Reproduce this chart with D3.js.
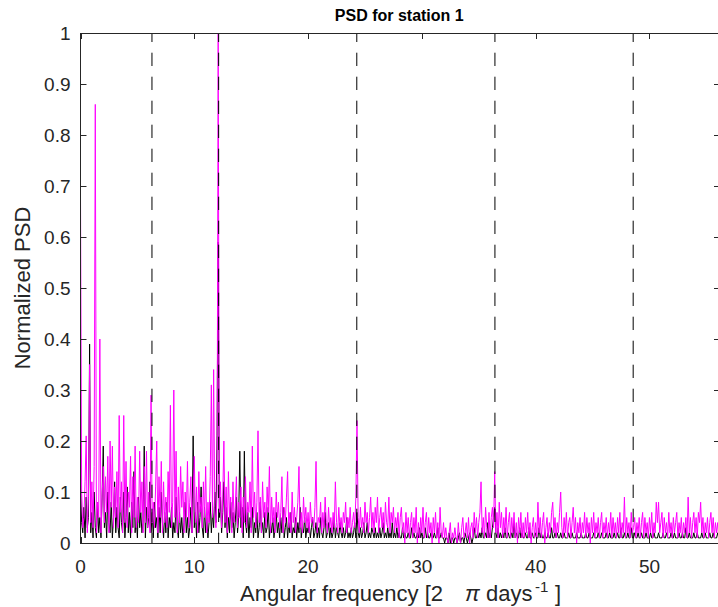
<!DOCTYPE html>
<html>
<head>
<meta charset="utf-8">
<script src="https://cdn.jsdelivr.net/npm/d3@7"></script>
<style>
	body { margin: 0; background: #fff; }
	svg { display: block; font-family: "Liberation Sans", Arial, sans-serif; }
	.tick-label { font-size: 19px; fill: #262626; }
</style>
</head>
<body>
<svg id="chart" width="718" height="607"></svg>
<script>
// frequency resolution of the PSD [2 pi days^-1]
var freqStep = 0.1;

// tidal harmonics marked with dashed lines
var tideFreqs = [6.28, 12.14, 24.28, 36.42, 48.57];

var xTicks = [0, 10, 20, 30, 40, 50];
var yTicks = [0, 0.1, 0.2, 0.3, 0.4, 0.5, 0.6, 0.7, 0.8, 0.9, 1];

// normalized PSD, magenta series (one row per unit of frequency)
var psdMagenta = [
	0.68, 0.10, 0.03, 0.05, 0.12, 0.21, 0.02, 0.09, 0.35, 0.04,
	0.12, 0.03, 0.15, 0.86, 0.02, 0.08, 0.05, 0.40, 0.02, 0.09,
	0.15, 0.04, 0.13, 0.06, 0.17, 0.02, 0.20, 0.07, 0.19, 0.03,
	0.11, 0.05, 0.14, 0.03, 0.25, 0.06, 0.12, 0.02, 0.25, 0.04,
	0.16, 0.03, 0.10, 0.07, 0.17, 0.02, 0.13, 0.05, 0.19, 0.03,
	0.09, 0.04, 0.18, 0.06, 0.12, 0.02, 0.15, 0.04, 0.18, 0.03,
	0.10, 0.02, 0.29, 0.04, 0.08, 0.03, 0.11, 0.20, 0.02, 0.13,
	0.05, 0.16, 0.02, 0.12, 0.04, 0.09, 0.03, 0.14, 0.06, 0.27,
	0.03, 0.08, 0.30, 0.05, 0.18, 0.02, 0.11, 0.04, 0.15, 0.07,
	0.12, 0.02, 0.10, 0.05, 0.16, 0.03, 0.08, 0.13, 0.02, 0.09,
	0.17, 0.04, 0.11, 0.02, 0.14, 0.06, 0.09, 0.03, 0.12, 0.05,
	0.15, 0.02, 0.08, 0.04, 0.13, 0.31, 0.05, 0.34, 0.07, 0.03,
	0.10, 1.00, 0.06, 0.12, 0.03, 0.09, 0.20, 0.04, 0.11, 0.02,
	0.14, 0.05, 0.09, 0.02, 0.12, 0.04, 0.07, 0.13, 0.03, 0.08,
	0.05, 0.11, 0.02, 0.09, 0.04, 0.13, 0.03, 0.08, 0.06, 0.12,
	0.02, 0.19, 0.05, 0.10, 0.03, 0.08, 0.22, 0.04, 0.09, 0.02,
	0.12, 0.05, 0.08, 0.03, 0.11, 0.06, 0.15, 0.02, 0.09, 0.04,
	0.07, 0.02, 0.10, 0.05, 0.08, 0.03, 0.06, 0.13, 0.02, 0.07,
	0.04, 0.09, 0.14, 0.03, 0.06, 0.02, 0.10, 0.04, 0.07, 0.02,
	0.05, 0.08, 0.15, 0.03, 0.06, 0.02, 0.09, 0.04, 0.07, 0.03,
	0.06, 0.02, 0.08, 0.04, 0.05, 0.03, 0.07, 0.16, 0.02, 0.05,
	0.04, 0.08, 0.02, 0.06, 0.03, 0.09, 0.04, 0.02, 0.07, 0.03,
	0.05, 0.02, 0.06, 0.03, 0.12, 0.04, 0.02, 0.07, 0.03, 0.05,
	0.02, 0.06, 0.04, 0.08, 0.02, 0.05, 0.03, 0.07, 0.02, 0.04,
	0.06, 0.03, 0.09, 0.24, 0.05, 0.02, 0.07, 0.03, 0.05, 0.02,
	0.08, 0.04, 0.06, 0.02, 0.05, 0.09, 0.03, 0.06, 0.02, 0.07,
	0.04, 0.09, 0.02, 0.05, 0.07, 0.03, 0.06, 0.02, 0.08, 0.04,
	0.03, 0.09, 0.02, 0.06, 0.04, 0.07, 0.02, 0.05, 0.03, 0.06,
	0.01, 0.05, 0.07, 0.02, 0.04, 0.00, 0.06, 0.02, 0.05, 0.01,
	0.04, 0.06, 0.01, 0.05, 0.02, 0.07, 0.00, 0.04, 0.01, 0.05,
	0.02, 0.07, 0.01, 0.04, 0.06, 0.01, 0.05, 0.02, 0.04, 0.00,
	0.05, 0.02, 0.06, 0.01, 0.04, 0.00, 0.07, 0.02, 0.01, 0.04,
	0.01, 0.03, 0.01, 0.00, 0.02, 0.04, 0.00, 0.02, 0.01, 0.03,
	0.01, 0.00, 0.04, 0.01, 0.00, 0.03, 0.05, 0.01, 0.02, 0.04,
	0.01, 0.05, 0.00, 0.03, 0.04, 0.01, 0.06, 0.02, 0.05, 0.01,
	0.04, 0.06, 0.12, 0.02, 0.05, 0.01, 0.07, 0.03, 0.01, 0.06,
	0.01, 0.05, 0.07, 0.03, 0.14, 0.02, 0.06, 0.01, 0.08, 0.03,
	0.06, 0.01, 0.05, 0.02, 0.07, 0.01, 0.04, 0.06, 0.01, 0.05,
	0.02, 0.06, 0.01, 0.04, 0.00, 0.05, 0.02, 0.06, 0.01, 0.04,
	0.01, 0.05, 0.02, 0.06, 0.01, 0.04, 0.00, 0.03, 0.05, 0.01,
	0.04, 0.01, 0.08, 0.02, 0.05, 0.01, 0.04, 0.06, 0.00, 0.03,
	0.05, 0.01, 0.04, 0.02, 0.06, 0.08, 0.02, 0.05, 0.01, 0.04,
	0.02, 0.06, 0.10, 0.03, 0.01, 0.05, 0.02, 0.06, 0.01, 0.04,
	0.05, 0.01, 0.04, 0.07, 0.02, 0.05, 0.00, 0.04, 0.02, 0.05,
	0.01, 0.04, 0.02, 0.06, 0.01, 0.05, 0.02, 0.04, 0.00, 0.05,
	0.02, 0.06, 0.01, 0.04, 0.02, 0.05, 0.01, 0.04, 0.06, 0.01,
	0.04, 0.02, 0.05, 0.01, 0.04, 0.02, 0.06, 0.01, 0.05, 0.02,
	0.04, 0.01, 0.05, 0.02, 0.06, 0.01, 0.04, 0.02, 0.09, 0.01,
	0.05, 0.02, 0.04, 0.01, 0.06, 0.02, 0.03, 0.05, 0.01, 0.04,
	0.02, 0.05, 0.01, 0.04, 0.06, 0.01, 0.05, 0.02, 0.04, 0.01,
	0.05, 0.02, 0.06, 0.01, 0.04, 0.02, 0.08, 0.04, 0.08, 0.02,
	0.04, 0.06, 0.01, 0.05, 0.02, 0.04, 0.01, 0.06, 0.02, 0.04,
	0.01, 0.05, 0.02, 0.04, 0.06, 0.01, 0.04, 0.02, 0.05, 0.01,
	0.04, 0.02, 0.05, 0.01, 0.09, 0.02, 0.05, 0.01, 0.04, 0.06,
	0.02, 0.05, 0.01, 0.06, 0.04, 0.08, 0.02, 0.05, 0.01, 0.04,
	0.02, 0.05, 0.01, 0.04, 0.06, 0.02, 0.05, 0.01, 0.04, 0.02,
	0.04, 0.01, 0.05
];

// normalized PSD, black series (one row per unit of frequency)
var psdBlack = [
	0.12, 0.04, 0.02, 0.07, 0.01, 0.09, 0.03, 0.05, 0.39, 0.02,
	0.06, 0.01, 0.10, 0.03, 0.01, 0.08, 0.02, 0.05, 0.01, 0.09,
	0.19, 0.03, 0.06, 0.01, 0.10, 0.04, 0.02, 0.08, 0.01, 0.05,
	0.12, 0.02, 0.07, 0.03, 0.01, 0.09, 0.04, 0.02, 0.10, 0.01,
	0.05, 0.11, 0.02, 0.06, 0.01, 0.08, 0.03, 0.14, 0.02, 0.05,
	0.01, 0.09, 0.03, 0.06, 0.02, 0.04, 0.19, 0.01, 0.07, 0.03,
	0.05, 0.12, 0.02, 0.06, 0.01, 0.08, 0.03, 0.05, 0.01, 0.07,
	0.02, 0.10, 0.04, 0.01, 0.06, 0.02, 0.08, 0.01, 0.05, 0.03,
	0.07, 0.01, 0.04, 0.02, 0.09, 0.03, 0.01, 0.06, 0.02, 0.05,
	0.01, 0.04, 0.08, 0.02, 0.05, 0.01, 0.03, 0.07, 0.02, 0.21,
	0.03, 0.06, 0.01, 0.08, 0.02, 0.05, 0.11, 0.03, 0.01, 0.07,
	0.02, 0.05, 0.01, 0.04, 0.08, 0.02, 0.06, 0.03, 0.10, 0.04,
	0.21, 0.59, 0.05, 0.09, 0.02, 0.06, 0.12, 0.03, 0.07, 0.01,
	0.05, 0.02, 0.08, 0.03, 0.06, 0.01, 0.04, 0.09, 0.02, 0.05,
	0.18, 0.03, 0.07, 0.01, 0.18, 0.04, 0.02, 0.06, 0.01, 0.05,
	0.03, 0.07, 0.01, 0.04, 0.02, 0.06, 0.01, 0.03, 0.08, 0.02,
	0.04, 0.01, 0.06, 0.02, 0.03, 0.07, 0.01, 0.04, 0.02, 0.05,
	0.01, 0.03, 0.06, 0.02, 0.04, 0.01, 0.05, 0.02, 0.07, 0.01,
	0.03, 0.05, 0.01, 0.04, 0.02, 0.06, 0.01, 0.03, 0.02, 0.05,
	0.01, 0.04, 0.02, 0.07, 0.01, 0.03, 0.02, 0.05, 0.01, 0.03,
	0.02, 0.04, 0.01, 0.03, 0.05, 0.01, 0.02, 0.04, 0.01, 0.03,
	0.01, 0.05, 0.02, 0.01, 0.03, 0.06, 0.01, 0.02, 0.04, 0.01,
	0.03, 0.01, 0.02, 0.05, 0.01, 0.03, 0.02, 0.01, 0.04, 0.02,
	0.01, 0.03, 0.01, 0.02, 0.05, 0.01, 0.02, 0.01, 0.03, 0.01,
	0.02, 0.04, 0.01, 0.06, 0.02, 0.01, 0.03, 0.01, 0.02, 0.04,
	0.01, 0.02, 0.04, 0.01, 0.02, 0.01, 0.03, 0.02, 0.01, 0.03,
	0.01, 0.02, 0.01, 0.03, 0.01, 0.02, 0.04, 0.01, 0.02, 0.01,
	0.03, 0.01, 0.02, 0.01, 0.04, 0.01, 0.02, 0.01, 0.03, 0.01,
	0.02, 0.01, 0.01, 0.03, 0.01, 0.02, 0.01, 0.01, 0.02, 0.01,
	0.01, 0.03, 0.01, 0.02, 0.01, 0.01, 0.02, 0.01, 0.03, 0.01,
	0.02, 0.01, 0.01, 0.03, 0.01, 0.02, 0.01, 0.01, 0.02, 0.01,
	0.01, 0.02, 0.01, 0.01, 0.03, 0.01, 0.01, 0.02, 0.01, 0.01,
	0.00, 0.01, 0.01, 0.00, 0.02, 0.00, 0.01, 0.01, 0.00, 0.01,
	0.01, 0.00, 0.01, 0.02, 0.00, 0.01, 0.01, 0.00, 0.02, 0.01,
	0.00, 0.01, 0.02, 0.01, 0.00, 0.01, 0.03, 0.01, 0.01, 0.02,
	0.01, 0.02, 0.01, 0.03, 0.01, 0.01, 0.02, 0.01, 0.04, 0.01,
	0.02, 0.01, 0.03, 0.05, 0.07, 0.02, 0.01, 0.03, 0.01, 0.02,
	0.01, 0.02, 0.01, 0.03, 0.01, 0.01, 0.02, 0.01, 0.01, 0.02,
	0.01, 0.04, 0.01, 0.02, 0.01, 0.01, 0.03, 0.01, 0.02, 0.01,
	0.01, 0.02, 0.01, 0.01, 0.03, 0.01, 0.01, 0.02, 0.01, 0.01,
	0.02, 0.01, 0.01, 0.03, 0.01, 0.02, 0.01, 0.01, 0.02, 0.01,
	0.01, 0.02, 0.01, 0.01, 0.03, 0.01, 0.01, 0.02, 0.01, 0.02,
	0.01, 0.01, 0.02, 0.01, 0.01, 0.02, 0.01, 0.01, 0.01, 0.02,
	0.01, 0.01, 0.02, 0.01, 0.01, 0.01, 0.02, 0.01, 0.01, 0.01,
	0.02, 0.01, 0.01, 0.01, 0.02, 0.01, 0.01, 0.02, 0.01, 0.01,
	0.01, 0.02, 0.01, 0.01, 0.01, 0.02, 0.01, 0.01, 0.02, 0.01,
	0.01, 0.01, 0.02, 0.01, 0.01, 0.02, 0.01, 0.01, 0.01, 0.02,
	0.01, 0.01, 0.02, 0.01, 0.01, 0.03, 0.01, 0.01, 0.02, 0.01,
	0.01, 0.02, 0.01, 0.01, 0.03, 0.01, 0.01, 0.02, 0.01, 0.01,
	0.02, 0.01, 0.01, 0.02, 0.01, 0.01, 0.01, 0.02, 0.01, 0.01,
	0.01, 0.02, 0.01, 0.01, 0.02, 0.01, 0.01, 0.01, 0.02, 0.01,
	0.01, 0.01, 0.02, 0.01, 0.01, 0.02, 0.01, 0.01, 0.01, 0.02,
	0.01, 0.01, 0.02, 0.01, 0.01, 0.01, 0.02, 0.01, 0.01, 0.02,
	0.01, 0.01, 0.03, 0.01, 0.01, 0.02, 0.01, 0.01, 0.01, 0.02,
	0.01, 0.01, 0.02, 0.01, 0.01, 0.01, 0.02, 0.01, 0.01, 0.02,
	0.01, 0.01, 0.01, 0.02, 0.01, 0.01, 0.02, 0.01, 0.01, 0.01,
	0.02, 0.01, 0.01
];

var svg = d3.select("#chart");

var	plotLeft = 80.5,
	plotRight = 720,
	plotTop = 33,
	plotBottom = 543,
	tickLen = 6,
	axisColor = "#262626";

var xScale = d3.scaleLinear().domain([0, 56.2]).range([plotLeft, plotRight]);
var yScale = d3.scaleLinear().domain([0, 1]).range([plotBottom, plotTop]);

svg.append("defs").append("clipPath")
	.attr("id", "plotClip")
	.append("rect")
		.attr("x", plotLeft)
		.attr("y", plotTop)
		.attr("width", plotRight - plotLeft)
		.attr("height", plotBottom - plotTop)
;

var line = d3.line()
	.x(function(d, i) {return xScale(i * freqStep);})
	.y(function(d) {return yScale(d);})
;

var plot = svg.append("g").attr("clip-path", "url(#plotClip)");

plot.append("path")
	.datum(psdBlack)
	.attr("d", line)
	.attr("fill", "none")
	.attr("stroke", "#000")
	.attr("stroke-width", 1)
;

plot.append("path")
	.datum(psdMagenta)
	.attr("d", line)
	.attr("fill", "none")
	.attr("stroke", "#ff00ff")
	.attr("stroke-width", 1)
;

//dashed harmonic markers
plot.selectAll("line.tide")
	.data(tideFreqs)
	.enter().append("line")
		.attr("class", "tide")
		.attr("x1", function(d) {return xScale(d);})
		.attr("x2", function(d) {return xScale(d);})
		.attr("y1", yScale(1))
		.attr("y2", yScale(0))
		.attr("stroke", "#000")
		.attr("stroke-width", 1)
		.attr("stroke-dasharray", "13.3,10.7")
		.attr("stroke-dashoffset", 4.3)
;

//Axes box, ticks inward on all four sides
var axes = svg.append("g")
	.attr("fill", "none")
	.attr("stroke", axisColor)
	.attr("stroke-width", 1)
;

axes.append("rect")
	.attr("x", plotLeft)
	.attr("y", plotTop + 0.5)
	.attr("width", plotRight - plotLeft)
	.attr("height", plotBottom - plotTop)
;

xTicks.forEach(function(t) {
	var x = Math.round(xScale(t)) + 0.5;
	axes.append("line").attr("x1", x).attr("x2", x).attr("y1", plotBottom).attr("y2", plotBottom - tickLen);
	axes.append("line").attr("x1", x).attr("x2", x).attr("y1", plotTop).attr("y2", plotTop + tickLen);
});

yTicks.forEach(function(t) {
	var y = Math.round(yScale(t)) + 0.5;
	axes.append("line").attr("x1", plotLeft).attr("x2", plotLeft + tickLen).attr("y1", y).attr("y2", y);
	axes.append("line").attr("x1", plotRight).attr("x2", plotRight - tickLen).attr("y1", y).attr("y2", y);
});

svg.selectAll("text.xtick")
	.data(xTicks)
	.enter().append("text")
		.attr("class", "xtick tick-label")
		.attr("x", function(d) {return xScale(d);})
		.attr("y", plotBottom + 30)
		.style("text-anchor", "middle")
		.text(function(d) {return d;})
;

svg.selectAll("text.ytick")
	.data(yTicks)
	.enter().append("text")
		.attr("class", "ytick tick-label")
		.attr("x", plotLeft - 10)
		.attr("y", function(d) {return yScale(d);})
		.attr("dy", "0.35em")
		.style("text-anchor", "end")
		.text(function(d) {return d;})
;

svg.append("text")
	.attr("x", (plotLeft + 718) / 2)
	.attr("y", 21)
	.style("text-anchor", "middle")
	.style("font-weight", "bold")
	.style("font-size", "16px")
	.style("fill", "#000")
	.text("PSD for station 1")
;

svg.append("text")
	.attr("transform", "translate(30," + ((plotTop + plotBottom) / 2) + ") rotate(-90)")
	.style("text-anchor", "middle")
	.style("font-size", "22px")
	.style("fill", axisColor)
	.text("Normalized PSD")
;

var xlab = svg.append("text")
	.attr("y", 601)
	.style("font-size", "22px")
	.style("fill", axisColor)
;
xlab.append("tspan").attr("x", 240).text("Angular frequency [2");
xlab.append("tspan").attr("x", 465).style("font-style", "italic").text("\u03c0");
xlab.append("tspan").attr("x", 486).text("days");
xlab.append("tspan").attr("x", 535).attr("dy", -9).style("font-size", "15px").text("-1");
xlab.append("tspan").attr("x", 555).attr("dy", 9).text("]");
</script>
</body>
</html>
